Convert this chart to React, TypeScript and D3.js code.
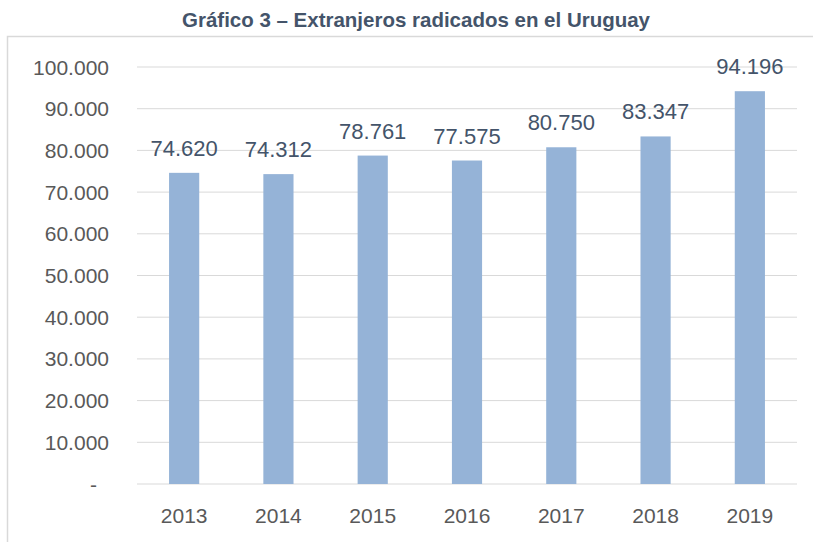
import React from "react";
import * as d3 from "d3";

const years: string[] = ["2013", "2014", "2015", "2016", "2017", "2018", "2019"];
const values: number[] = [74620, 74312, 78761, 77575, 80750, 83347, 94196];
const yTicks: number[] = [0, 10000, 20000, 30000, 40000, 50000, 60000, 70000, 80000, 90000, 100000];
const title = "Gráfico 3 – Extranjeros radicados en el Uruguay";

const W = 813;
const H = 542;
const plotLeft = 137;
const plotRight = 797;
const plotTop = 67;
const plotBottom = 484;

const fmt = (v: number) => (v === 0 ? "-" : d3.format(",")(v).replace(/,/g, "."));

export default function App() {
  const x = d3.scaleBand<string>().domain(years).range([plotLeft, plotRight]).paddingInner(0.68).paddingOuter(0.34);
  const y = d3.scaleLinear().domain([0, 100000]).range([plotBottom, plotTop]);
  const font = "'Liberation Sans', Arial, sans-serif";
  return (
    <svg width={W} height={H} style={{ position: "absolute", left: 0, top: 0, background: "#fff" }}>
      <rect x={0} y={0} width={W} height={H} fill="#fff" />
      <text
        x={416}
        y={27}
        textAnchor="middle"
        fontFamily={font}
        fontWeight="bold"
        fontSize={21}
        fill="#44546A"
        textLength={468}
        lengthAdjust="spacingAndGlyphs"
      >
        {title}
      </text>
      <rect x={7.5} y={36.5} width={W + 20} height={H + 20} fill="none" stroke="#D9D9D9" strokeWidth={1.5} />
      {yTicks.map((t) => (
        <g key={t}>
          <line x1={plotLeft} x2={plotRight} y1={y(t)} y2={y(t)} stroke="#D9D9D9" strokeWidth={1} />
          <text
            x={t === 0 ? 97 : 109}
            y={y(t)}
            dy="0.36em"
            textAnchor="end"
            fontFamily={font}
            fontSize={21}
            fill="#595959"
          >
            {fmt(t)}
          </text>
        </g>
      ))}
      {years.map((yr, i) => (
        <g key={yr}>
          <rect x={x(yr)} y={y(values[i])} width={x.bandwidth()} height={plotBottom - y(values[i])} fill="#95B3D7" />
          <text
            x={(x(yr) as number) + x.bandwidth() / 2}
            y={y(values[i]) - 17}
            textAnchor="middle"
            fontFamily={font}
            fontSize={22}
            fill="#44546A"
          >
            {fmt(values[i])}
          </text>
          <text
            x={(x(yr) as number) + x.bandwidth() / 2}
            y={523}
            textAnchor="middle"
            fontFamily={font}
            fontSize={21}
            fill="#595959"
          >
            {yr}
          </text>
        </g>
      ))}
    </svg>
  );
}
